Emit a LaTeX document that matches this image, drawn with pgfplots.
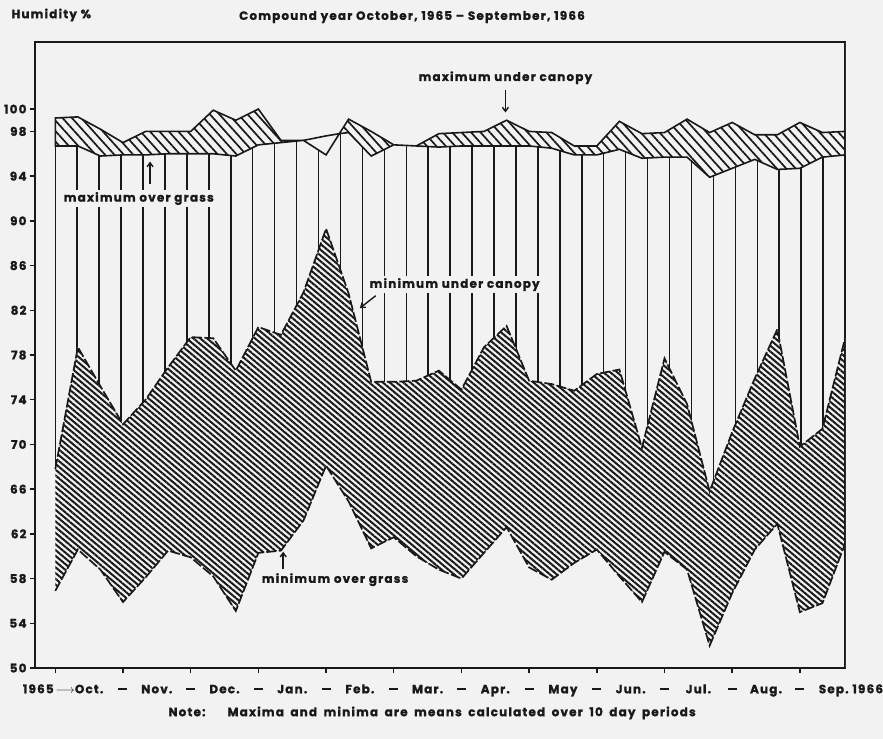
\documentclass[border=0pt]{standalone}
\usepackage{fontspec}
\setmainfont{Poppins}[LetterSpace=10, BoldFeatures={FakeBold=1.2}]
\usepackage{pgfplots}
\usepackage{pgfplotstable}
\pgfplotsset{compat=1.18}
\usetikzlibrary{patterns.meta,arrows.meta}

\definecolor{paper}{gray}{0.95}
\definecolor{ink}{gray}{0.1}

% Ten-day means of relative humidity (%), October 1965 -- September 1966
% muc = maximum under canopy, mgo = maximum over grass
% minc = minimum under canopy, ming = minimum over grass
\pgfplotstableread{
j   muc    mgo    minc   ming
0   99.2   96.7   67.8   56.9
1   99.3   96.7   78.7   60.6
2   98.2   95.8   75.2   58.8
3   97.0   95.9   71.8   55.9
4   98.0   95.9   74.0   58.1
5   98.0   96.0   76.9   60.5
6   98.0   96.0   79.6   59.9
7   99.9   96.0   79.5   58.2
8   99.0   95.8   76.6   55.1
9   100.0  96.8   80.5   60.3
10  97.2   97.0   79.8   60.5
11  97.2   97.2   83.6   63.2
12  95.9   97.6   89.3   68.1
13  99.1   97.9   83.5   64.9
14  98.0   95.8   75.6   60.7
15  96.8   96.8   75.6   61.7
16  96.7   96.7   75.7   60.0
17  97.8   96.6   76.6   58.8
18  97.9   96.7   74.9   58.0
19  98.0   96.7   78.7   60.3
20  99.0   96.7   80.6   62.6
21  98.0   96.7   75.7   59.0
22  97.9   96.5   75.4   57.9
23  96.7   95.9   74.8   59.4
24  96.7   95.9   76.3   60.6
25  98.9   96.4   76.7   58.2
26  97.8   95.6   69.7   55.9
27  97.9   95.7   77.7   60.4
28  99.1   95.7   73.6   58.8
29  97.9   93.9   65.8   52.0
30  98.8   94.7   71.1   56.7
31  97.7   95.5   75.9   60.6
32  97.7   94.6   80.3   62.9
33  98.8   94.7   69.8   55.0
34  97.9   95.7   71.4   55.8
35  98.0   95.9   79.5   61.1
}\hum

\newcommand{\monthdash}{\rule[0.55ex]{9bp}{1.7bp}}

\tikzset{
  upperhatch/.style={pattern={Lines[angle=-48, distance=7bp, line width=1.7bp]}, pattern color=ink},
  lowerhatch/.style={pattern={Lines[angle=-40, distance=4.4bp, line width=2bp]}, pattern color=ink},
  pointer/.style={ink, line width=1.4bp, -{Straight Barb[length=4bp,width=6bp]}},
}

\begin{document}
\begin{tikzpicture}[font=\bfseries\fontsize{12}{14}\selectfont]
\useasboundingbox (-35bp,-71bp) rectangle (848bp,668bp);
\fill[paper] (-35bp,-71bp) rectangle (848bp,668bp);

\begin{axis}[
  at={(0,0)}, anchor=south west,
  scale only axis, width=810bp, height=626bp,
  xmin=-0.9, xmax=35, ymin=50, ymax=106,
  axis line style={ink, line width=1.8bp},
  tick align=outside, xtick pos=bottom, ytick pos=left,
  major tick length=5bp,
  tick style={ink, line width=1.4bp},
  ytick={50,54,58,62,66,70,74,78,82,86,90,94,98,100},
  xtick={0,3,...,33},
  xticklabels={{},\monthdash,\monthdash,\monthdash,\monthdash,\monthdash,\monthdash,\monthdash,\monthdash,\monthdash,\monthdash,\monthdash},
  extra x ticks={1.5,4.5,...,34.5},
  extra x tick labels={\llap{1965\,$\longrightarrow$}Oct.,Nov.,Dec.,Jan.,Feb.,Mar.,Apr.,May,Jun.,Jul.,Aug.,Sep.\rlap{ 1966}},
  extra x tick style={major tick length=0pt, xticklabel style={yshift=-5bp}},
  minor xtick={0,0.97222,...,35},
  xminorgrids=true,
  minor x grid style={ink, line width=1.5bp},
  minor tick length=0pt,
  /pgf/number format/assume math mode=true,
  tick label style={font=\bfseries\fontsize{12}{14}\selectfont, text=ink},
  xticklabel style={text height=1.6ex, text depth=0.3ex, yshift=-8bp},
]
% the vertical rules only show between the grass maximum and the canopy minimum
\addplot[fill=paper, draw=none] table[x=j, y=mgo] {\hum}
  -- (axis cs:35,106) -- (axis cs:-0.9,106) -- (axis cs:-0.9,96.7) -- cycle;
\addplot[fill=paper, draw=none] table[x=j, y=minc] {\hum}
  -- (axis cs:35,50) -- (axis cs:-0.9,50) -- (axis cs:-0.9,67.8) -- cycle;

% band between the two maxima (canopy above grass)
\addplot[upperhatch, draw=ink, line width=1.6bp] coordinates {
  (0,99.2) (1,99.3) (2,98.2) (3,97.0) (4,98.0) (5,98.0) (6,98.0) (7,99.9)
  (8,99.0) (9,100.0) (10,97.2) (11,97.2)
  (10,97.0) (9,96.8) (8,95.8) (7,96.0) (6,96.0) (5,96.0) (4,95.9) (3,95.9)
  (2,95.8) (1,96.7) (0,96.7)} -- cycle;
% where the grass maximum lies above the canopy maximum
\addplot[fill=paper, draw=ink, line width=1.6bp] coordinates {
  (11,97.2) (12,95.9) (12.59,97.8) (12,97.6)} -- cycle;
\addplot[upperhatch, draw=ink, line width=1.6bp] coordinates {
  (12.59,97.8) (13,99.1) (14,98.0) (15,96.8) (16,96.7) (17,97.8) (18,97.9)
  (19,98.0) (20,99.0) (21,98.0) (22,97.9) (23,96.7) (24,96.7) (25,98.9)
  (26,97.8) (27,97.9) (28,99.1) (29,97.9) (30,98.8) (31,97.7) (32,97.7)
  (33,98.8) (34,97.9) (35,98.0)
  (35,95.9) (34,95.7) (33,94.7) (32,94.6) (31,95.5) (30,94.7) (29,93.9)
  (28,95.7) (27,95.7) (26,95.6) (25,96.4) (24,95.9) (23,95.9) (22,96.5)
  (21,96.7) (20,96.7) (19,96.7) (18,96.7) (17,96.6) (16,96.7) (15,96.8)
  (14,95.8) (13,97.9)} -- cycle;

% band between the two minima
\addplot[lowerhatch, draw=none] coordinates {
  (0,67.8) (1,78.7) (2,75.2) (3,71.8) (4,74.0) (5,76.9) (6,79.6) (7,79.5)
  (8,76.6) (9,80.5) (10,79.8) (11,83.6) (12,89.3) (13,83.5) (14,75.6)
  (15,75.6) (16,75.7) (17,76.6) (18,74.9) (19,78.7) (20,80.6) (21,75.7)
  (22,75.4) (23,74.8) (24,76.3) (25,76.7) (26,69.7) (27,77.7) (28,73.6)
  (29,65.8) (30,71.1) (31,75.9) (32,80.3) (33,69.8) (34,71.4) (35,79.5)
  (35,61.1) (34,55.8) (33,55.0) (32,62.9) (31,60.6) (30,56.7) (29,52.0)
  (28,58.8) (27,60.4) (26,55.9) (25,58.2) (24,60.6) (23,59.4) (22,57.9)
  (21,59.0) (20,62.6) (19,60.3) (18,58.0) (17,58.8) (16,60.0) (15,61.7)
  (14,60.7) (13,64.9) (12,68.1) (11,63.2) (10,60.5) (9,60.3) (8,55.1)
  (7,58.2) (6,59.9) (5,60.5) (4,58.1) (3,55.9) (2,58.8) (1,60.6) (0,56.9)} -- cycle;
\addplot[ink, line width=1.7bp, dash pattern=on 10bp off 2.5bp] table[x=j, y=minc] {\hum};
\addplot[ink, line width=1.7bp, dash pattern=on 10bp off 2.5bp] table[x=j, y=ming] {\hum};

% labels for the four curves
\node[text=ink] at (axis cs:19.95,102.8) {maximum under canopy};
\draw[pointer] (axis cs:19.95,101.7) -- (axis cs:19.95,99.7);
\node[text=ink, fill=paper, inner sep=2bp] at (axis cs:3.7,92.0) {maximum over grass};
\draw[pointer] (axis cs:4.2,93.3) -- (axis cs:4.2,95.3);
\node[text=ink, fill=paper, inner sep=2bp] at (axis cs:17.7,84.3) {minimum under canopy};
\draw[pointer] (axis cs:14.2,83.3) -- (axis cs:13.5,82.2);
\node[text=ink, fill=paper, inner sep=2bp] at (axis cs:12.4,57.9) {minimum over grass};
\draw[pointer] (axis cs:10.1,58.9) -- (axis cs:10.1,60.4);

\draw[ink, line width=1.8bp] (rel axis cs:0,0) rectangle (rel axis cs:1,1);
\end{axis}

\node[anchor=west, text=ink] at (-27bp,653bp) {Humidity \%};
\node[text=ink] at (377bp,651bp) {Compound year October, 1965 \textendash{} September, 1966};
\node[anchor=west, text=ink] at (130bp,-45bp) {\spaceskip=6.5bp plus 1bp Note:\hspace{22bp}Maxima and minima are means calculated over 10 day periods};
\end{tikzpicture}
\end{document}
